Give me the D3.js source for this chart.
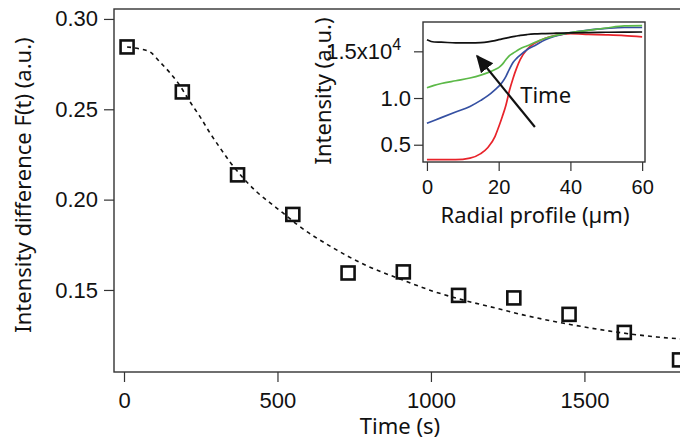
<!DOCTYPE html>
<html>
<head>
<meta charset="utf-8">
<script src="https://cdn.jsdelivr.net/npm/d3@7"></script>
<style>
  body { margin: 0; background: #fff; }
  svg { display: block; font-family: "Noto Sans", sans-serif; }
  .axis line { stroke: #333; stroke-width: 1.2; }
  .axis text { font-size: 22px; fill: #111; }
  .inset-x text { font-size: 20px; }
  .title { font-size: 22px; fill: #111; }
</style>
</head>
<body>
<script>
// main panel: intensity difference vs time
var times = [10, 190, 370, 550, 730, 910, 1090, 1270, 1450, 1630, 1810];
var diffs = [0.2845, 0.2596, 0.2137, 0.1918, 0.1594, 0.1600, 0.1470, 0.1456, 0.1365, 0.1265, 0.1113];

// dashed fit
var fitT = [10, 52, 85, 117, 150, 176, 215, 248, 280, 313, 345, 388, 433, 476, 518, 564,
            681, 792, 899, 1007, 1117, 1215, 1300, 1410, 1518, 1625, 1736, 1850];
var fitF = [0.2845, 0.2834, 0.2817, 0.2762, 0.2701, 0.2646, 0.2541, 0.2458, 0.2369, 0.2286,
            0.2209, 0.2120, 0.2042, 0.1982, 0.1926, 0.1862, 0.1733, 0.1633, 0.1561, 0.1493,
            0.1439, 0.1398, 0.1362, 0.1323, 0.1290, 0.1262, 0.1240, 0.1225];

var mainXTicks = [0, 500, 1000, 1500];
var mainYTicks = [0.15, 0.20, 0.25, 0.30];

// inset: radial intensity profiles (x10^4), earliest -> latest
var radius = [0, 2, 4, 8, 12, 15, 17, 19, 20, 21, 22, 23, 24, 25, 26, 28, 30, 33, 36, 40, 45, 50, 55, 60];
var redProfile   = [0.34, 0.34, 0.34, 0.34, 0.357, 0.405, 0.47, 0.59, 0.69, 0.80, 0.92, 1.08, 1.21, 1.32, 1.41, 1.525, 1.585, 1.64, 1.67, 1.688, 1.682, 1.676, 1.668, 1.655];
var blueProfile  = [0.73, 0.76, 0.79, 0.85, 0.91, 0.975, 1.025, 1.09, 1.125, 1.17, 1.23, 1.31, 1.38, 1.425, 1.46, 1.52, 1.56, 1.625, 1.665, 1.70, 1.728, 1.745, 1.755, 1.755];
var greenProfile = [1.11, 1.135, 1.155, 1.185, 1.214, 1.245, 1.272, 1.305, 1.325, 1.36, 1.41, 1.455, 1.48, 1.505, 1.528, 1.56, 1.595, 1.64, 1.67, 1.70, 1.725, 1.75, 1.772, 1.775];
var blackProfile = [1.625, 1.60, 1.598, 1.59, 1.59, 1.594, 1.602, 1.615, 1.625, 1.634, 1.642, 1.65, 1.657, 1.664, 1.671, 1.68, 1.686, 1.69, 1.694, 1.698, 1.701, 1.704, 1.706, 1.707];

var insetXTicks = [0, 20, 40, 60];
var insetYTicks = [0.5, 1.0, 1.5];

// "Time" arrow in inset data coords
var arrowFrom = [30.1, 0.69];
var arrowTo = [14, 1.45];
var timeLabelAt = [26, 0.95];

var W = 680, H = 439;
var svg = d3.select("body").append("svg")
  .attr("width", W).attr("height", H);

var defs = svg.append("defs");
defs.append("marker")
  .attr("id", "head")
  .attr("viewBox", "0 0 10 10")
  .attr("refX", 9).attr("refY", 5)
  .attr("markerWidth", 8).attr("markerHeight", 8)
  .attr("markerUnits", "strokeWidth")
  .attr("orient", "auto")
  .append("path")
  .attr("d", "M0,0.5 L10,5 L0,9.5 Z")
  .attr("fill", "#111");

// ---- main panel ----
var m = {left: 114, right: 690, top: 9, bottom: 372};
var x = d3.scaleLinear().domain([-32.6, 1844]).range([m.left, m.right]);
var y = d3.scaleLinear().domain([0.1046, 0.3055]).range([m.bottom, m.top]);

svg.append("rect")
  .attr("x", m.left).attr("y", m.top)
  .attr("width", m.right - m.left).attr("height", m.bottom - m.top)
  .attr("fill", "none").attr("stroke", "#333").attr("stroke-width", 1.4);

svg.append("g")
  .attr("class", "axis")
  .attr("transform", "translate(" + m.left + ",0)")
  .call(d3.axisLeft(y).tickValues(mainYTicks).tickSize(10).tickPadding(6)
    .tickFormat(d3.format(".2f")))
  .call(function(g) { g.select(".domain").remove(); });

svg.append("g")
  .attr("class", "axis")
  .attr("transform", "translate(0," + m.bottom + ")")
  .call(d3.axisBottom(x).tickValues(mainXTicks).tickSize(10).tickPadding(10)
    .tickFormat(d3.format("d")))
  .call(function(g) { g.select(".domain").remove(); });

svg.append("text")
  .attr("class", "title")
  .attr("text-anchor", "middle")
  .attr("x", 400).attr("y", 434)
  .text("Time (s)");

svg.append("text")
  .attr("class", "title")
  .attr("text-anchor", "middle")
  .attr("transform", "translate(31,185) rotate(-90)")
  .text("Intensity difference F(t) (a.u.)");

var fitLine = d3.line()
  .x(function(d, i) { return x(fitT[i]); })
  .y(function(d) { return y(d); })
  .curve(d3.curveMonotoneX);

svg.append("path")
  .attr("d", fitLine(fitF))
  .attr("fill", "none")
  .attr("stroke", "#111")
  .attr("stroke-width", 1.6)
  .attr("stroke-dasharray", "4,4");

var sq = 13;
svg.selectAll(".pt")
  .data(diffs)
  .enter().append("rect")
  .attr("class", "pt")
  .attr("x", function(d, i) { return x(times[i]) - sq / 2; })
  .attr("y", function(d) { return y(d) - sq / 2; })
  .attr("width", sq).attr("height", sq)
  .attr("fill", "none")
  .attr("stroke", "#111")
  .attr("stroke-width", 2.6);

// ---- inset ----
var n = {left: 423, right: 645, top: 22, bottom: 162};
var ix = d3.scaleLinear().domain([-1.1, 60.8]).range([n.left, n.right]);
var iy = d3.scaleLinear().domain([0.315, 1.814]).range([n.bottom, n.top]);

svg.append("rect")
  .attr("x", n.left).attr("y", n.top)
  .attr("width", n.right - n.left).attr("height", n.bottom - n.top)
  .attr("fill", "#fff").attr("stroke", "#333").attr("stroke-width", 1.4);

var profiles = [
  {vals: redProfile, color: "#e8232a"},
  {vals: blueProfile, color: "#3550a2"},
  {vals: greenProfile, color: "#5cb948"},
  {vals: blackProfile, color: "#111"}
];

var profLine = d3.line()
  .x(function(d, i) { return ix(radius[i]); })
  .y(function(d) { return iy(d); })
  .curve(d3.curveMonotoneX);

svg.selectAll(".prof")
  .data(profiles)
  .enter().append("path")
  .attr("class", "prof")
  .attr("d", function(d) { return profLine(d.vals); })
  .attr("fill", "none")
  .attr("stroke", function(d) { return d.color; })
  .attr("stroke-width", 1.7);

svg.append("g")
  .attr("class", "axis")
  .attr("transform", "translate(" + n.left + ",0)")
  .call(d3.axisLeft(iy).tickValues(insetYTicks).tickSize(9).tickPadding(3)
    .tickFormat(function(d) { return d === 1.5 ? "1.5x10" : d3.format(".1f")(d); }))
  .call(function(g) {
    g.select(".domain").remove();
    g.selectAll(".tick text").filter(function(d) { return d === 1.5; })
      .attr("dx", "-0.45em")
      .append("tspan").attr("dy", "-0.55em").attr("font-size", "16px").text("4");
  });

svg.append("g")
  .attr("class", "axis inset-x")
  .attr("transform", "translate(0," + n.bottom + ")")
  .call(d3.axisBottom(ix).tickValues(insetXTicks).tickSize(9).tickPadding(9)
    .tickFormat(d3.format("d")))
  .call(function(g) { g.select(".domain").remove(); });

svg.append("text")
  .attr("class", "title")
  .attr("text-anchor", "middle")
  .attr("x", 535).attr("y", 223)
  .text("Radial profile (\u00b5m)");

svg.append("text")
  .attr("class", "title")
  .attr("text-anchor", "middle")
  .attr("transform", "translate(331,91) rotate(-90)")
  .text("Intensity (a.u.)");

svg.append("line")
  .attr("x1", ix(arrowFrom[0])).attr("y1", iy(arrowFrom[1]))
  .attr("x2", ix(arrowTo[0])).attr("y2", iy(arrowTo[1]))
  .attr("stroke", "#111").attr("stroke-width", 2.2)
  .attr("marker-end", "url(#head)");

svg.append("text")
  .attr("class", "title")
  .attr("font-size", "21px")
  .attr("x", ix(timeLabelAt[0])).attr("y", iy(timeLabelAt[1]))
  .text("Time");
</script>
</body>
</html>
